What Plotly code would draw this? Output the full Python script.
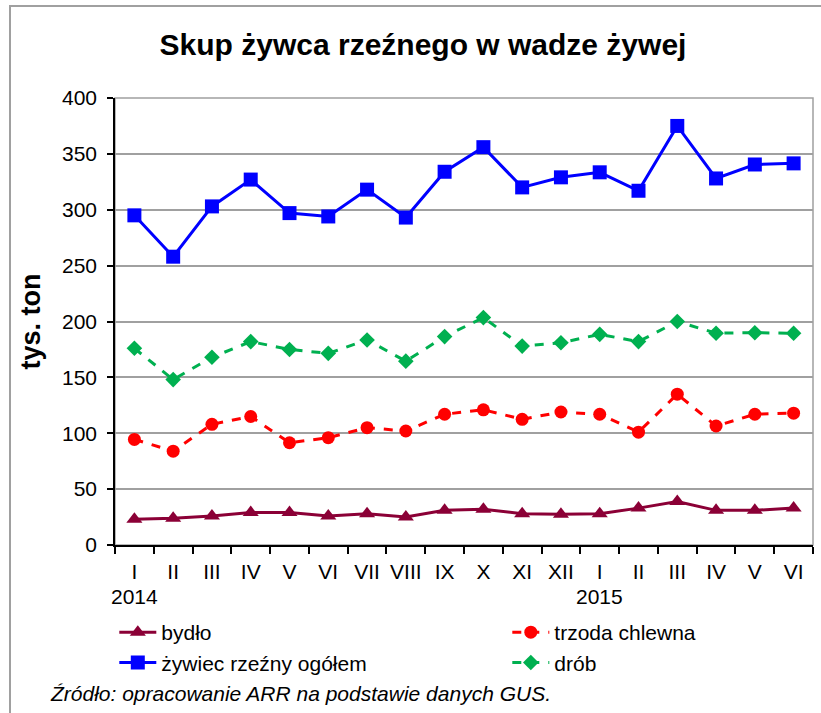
import plotly.graph_objects as go

months = ["I", "II", "III", "IV", "V", "VI", "VII", "VIII", "IX", "X", "XI", "XII",
          "I", "II", "III", "IV", "V", "VI"]
years = ["2014", "", "", "", "", "", "", "", "", "", "", "",
         "2015", "", "", "", "", ""]

bydlo = [23, 24, 26, 29, 29, 26, 28, 25, 31, 32, 28, 27.5, 28, 33, 39, 31, 31, 33]
trzoda = [94.5, 84, 108, 115, 91.5, 96, 105, 102, 117, 121, 112.5, 119, 117, 101, 135, 106.5, 117, 118]
ogolem = [295, 258, 303, 327, 297, 294, 318, 293, 334, 356, 320, 329, 333.5, 317, 375, 328, 340.5, 341.5]
drob = [176, 148, 168, 182, 175, 171.5, 183.5, 164.5, 186.5, 203.5, 178, 181, 188.5, 182, 200, 189.5, 190, 189.5]

y_ticks = [0, 50, 100, 150, 200, 250, 300, 350, 400]

FONT = "Arial, Liberation Sans, sans-serif"
x = list(range(len(months)))

# plot area in pixels
L, T, W, H = 115, 98, 698, 447
B = T + H


def px(xp):
    return (xp - L) / W


def py(yp):
    return (B - yp) / H


fig = go.Figure()
fig.add_trace(go.Scatter(x=x, y=bydlo, name="bydło", mode="lines+markers",
                         line=dict(color="#8B0036", width=3),
                         marker=dict(symbol="triangle-up", size=14, color="#8B0036")))
fig.add_trace(go.Scatter(x=x, y=trzoda, name="trzoda chlewna", mode="lines+markers",
                         line=dict(color="#FF0000", width=3, dash="dash"),
                         marker=dict(symbol="circle", size=13, color="#FF0000")))
fig.add_trace(go.Scatter(x=x, y=ogolem, name="żywiec rzeźny ogółem", mode="lines+markers",
                         line=dict(color="#0000FF", width=3),
                         marker=dict(symbol="square", size=14, color="#0000FF")))
fig.add_trace(go.Scatter(x=x, y=drob, name="drób", mode="lines+markers",
                         line=dict(color="#00B050", width=3, dash="dash"),
                         marker=dict(symbol="diamond", size=12, color="#00B050")))

annotations = []
for i, yr in enumerate(years):
    if yr:
        annotations.append(dict(x=i, y=py(596), xref="x", yref="paper",
                                text=yr, showarrow=False, xanchor="center", yanchor="middle",
                                font=dict(family=FONT, size=21, color="#000")))
annotations.append(dict(x=px(48), y=py(693), xref="paper", yref="paper",
                        text="<i>Źródło: opracowanie ARR na podstawie danych GUS.</i>",
                        showarrow=False, xanchor="left", yanchor="middle",
                        font=dict(family=FONT, size=21, color="#000")))

shapes = [
    dict(type="rect", xref="paper", yref="paper", x0=0, x1=1, y0=0, y1=1,
         line=dict(color="#A0A0A0", width=1.5), layer="below"),
    dict(type="path", xref="paper", yref="paper",
         path="M %f,%f L %f,%f L %f,%f" % (px(10), py(713), px(10), py(6), px(821), py(6)),
         line=dict(color="#A0A0A0", width=2)),
]

fig.update_layout(
    width=821, height=713,
    margin=dict(l=L, r=821 - L - W, t=T, b=713 - B, autoexpand=False),
    paper_bgcolor="white", plot_bgcolor="white",
    font=dict(family=FONT, size=21, color="#000"),
    title=dict(text="<b>Skup żywca rzeźnego w wadze żywej</b>", x=423 / 821, xref="container",
               y=1 - 44 / 713, yref="container", xanchor="center", yanchor="middle",
               font=dict(family=FONT, size=30, color="#000")),
    xaxis=dict(range=[-0.5, len(months) - 0.5], tickvals=x, ticktext=months,
               showline=True, linecolor="#000", linewidth=1.5, ticks="", ticklen=0,
               showgrid=False, zeroline=False, fixedrange=True, automargin=False,
               ticklabelstandoff=7,
               tickfont=dict(family=FONT, size=21, color="#000"),
               minor=dict(tick0=-0.5, dtick=1, ticks="outside", ticklen=7,
                          tickcolor="#000", tickwidth=1.5, showgrid=False)),
    yaxis=dict(range=[0, 400], tickvals=y_ticks, showline=True, linecolor="#000",
               linewidth=1.5, ticks="outside", ticklen=6, tickcolor="#000", tickwidth=1.5,
               showgrid=True, gridcolor="#A0A0A0", gridwidth=1.5, zeroline=False,
               automargin=False, ticklabelstandoff=6, fixedrange=True,
               tickfont=dict(family=FONT, size=21, color="#000"),
               title=dict(text="<b>tys. ton</b>", standoff=14,
                          font=dict(family=FONT, size=27, color="#000"))),
    legend=dict(orientation="h", x=-0.001, xanchor="left",
                y=py(612), yanchor="top", entrywidth=341, entrywidthmode="pixels",
                itemwidth=37,
                font=dict(family=FONT, size=21, color="#000"), traceorder="normal",
                bgcolor="rgba(0,0,0,0)", tracegroupgap=0),
    annotations=annotations,
    shapes=shapes,
    showlegend=True,
)

fig.write_html("out.html", config={"displayModeBar": False},
               post_script="document.body.style.margin='0';")
